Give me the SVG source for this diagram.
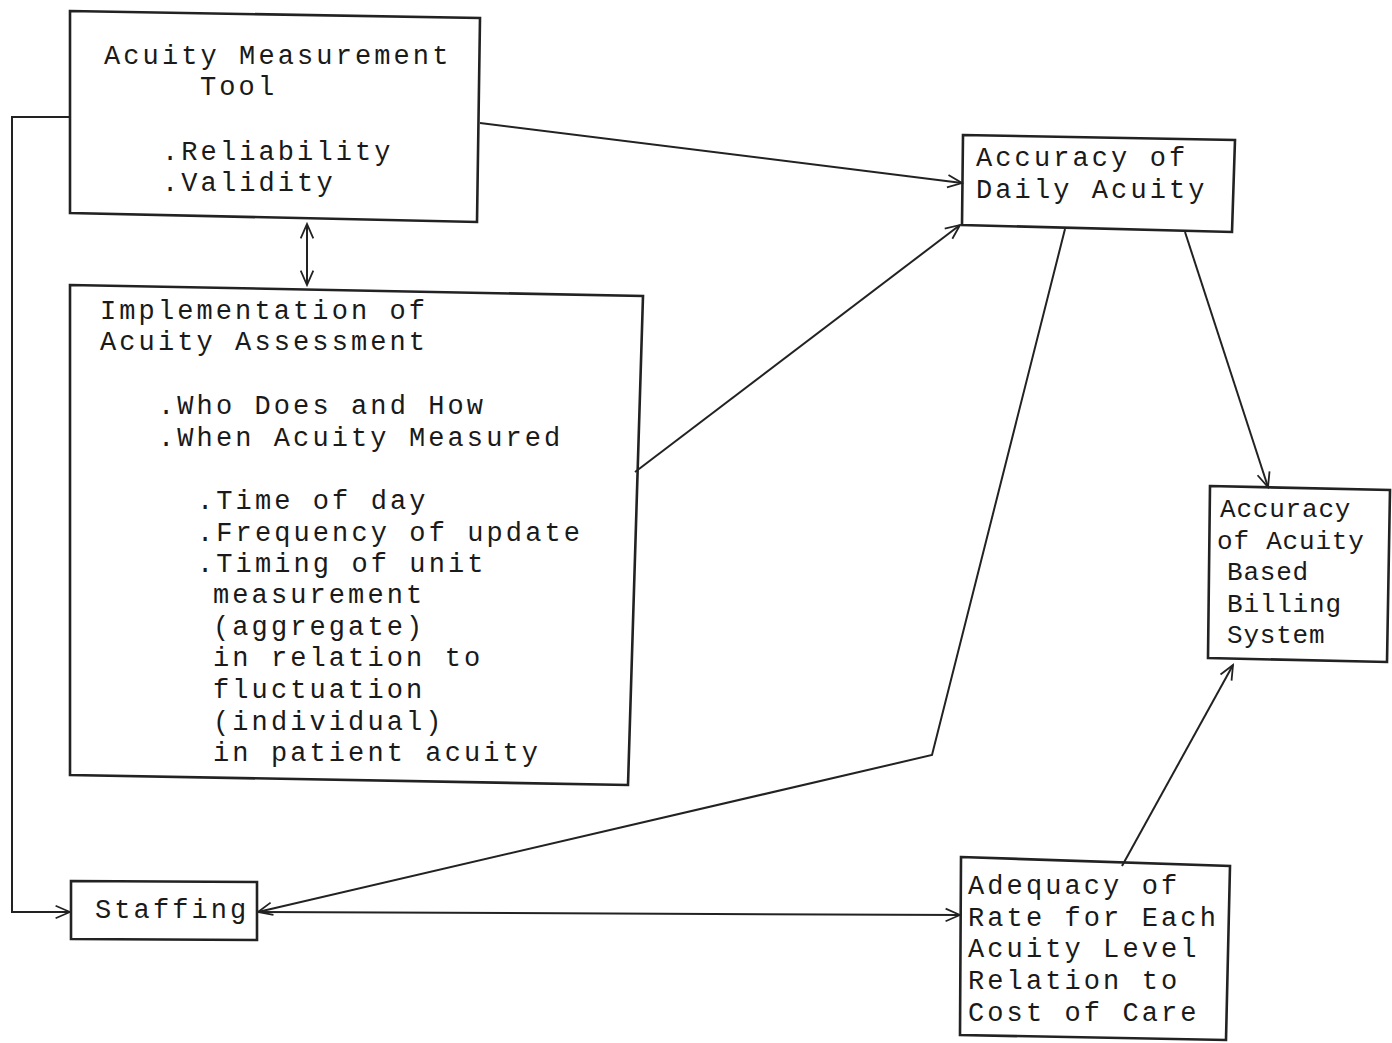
<svg xmlns="http://www.w3.org/2000/svg" width="1392" height="1043" viewBox="0 0 1392 1043">
<style>
.box{fill:none;stroke:#222;stroke-width:2.6}
.ln{fill:none;stroke:#222;stroke-width:2}
.t{font-family:"Liberation Mono","Courier New",monospace;font-size:27px;letter-spacing:3.1px;fill:#1a1a1a}
.s{font-size:26px;letter-spacing:0.8px}
</style>
<defs>
<marker id="ah" viewBox="0 0 20 20" refX="18" refY="10" markerWidth="18" markerHeight="18" markerUnits="userSpaceOnUse" orient="auto-start-reverse">
<path d="M2,3 L18,10 L2,17" fill="none" stroke="#222" stroke-width="2"/>
</marker>
</defs>
<rect width="1392" height="1043" fill="#fff"/>
<g id="connectors">
<path class="ln" d="M70,117 L12,117 L12,912 L70,912" marker-end="url(#ah)"/>
<path class="ln" d="M480,123 L962,183" marker-end="url(#ah)"/>
<path class="ln" d="M307,224 L307,285" marker-start="url(#ah)" marker-end="url(#ah)"/>
<path class="ln" d="M635,472 L960,225" marker-end="url(#ah)"/>
<path class="ln" d="M1065,229 L932,755 L258,912" marker-end="url(#ah)"/>
<path class="ln" d="M1185,232 L1268,487" marker-end="url(#ah)"/>
<path class="ln" d="M258,912 L960,915" marker-end="url(#ah)"/>
<path class="ln" d="M1122,866 L1233,665" marker-end="url(#ah)"/>
</g>
<g id="n1">
<path class="box" d="M70,11 L480,18 L477,222 L70,213 Z"/>
<text class="t" x="104" y="64">Acuity Measurement</text>
<text class="t" x="200" y="95">Tool</text>
<text class="t" x="162" y="160">.Reliability</text>
<text class="t" x="162" y="191">.Validity</text>
</g>
<g id="n2">
<path class="box" d="M70,285 L643,296 L628,785 L70,775 Z"/>
<text class="t" x="100" y="319">Implementation of</text>
<text class="t" x="100" y="350">Acuity Assessment</text>
<text class="t" x="158" y="414">.Who Does and How</text>
<text class="t" x="158" y="446">.When Acuity Measured</text>
<text class="t" x="197" y="509">.Time of day</text>
<text class="t" x="197" y="541">.Frequency of update</text>
<text class="t" x="197" y="572">.Timing of unit</text>
<text class="t" x="213" y="603">measurement</text>
<text class="t" x="213" y="635">(aggregate)</text>
<text class="t" x="213" y="666">in relation to</text>
<text class="t" x="213" y="698">fluctuation</text>
<text class="t" x="213" y="730">(individual)</text>
<text class="t" x="213" y="761">in patient acuity</text>
</g>
<g id="n3">
<path class="box" d="M963,135 L1235,140 L1232,232 L962,225 Z"/>
<text class="t" x="976" y="166">Accuracy of</text>
<text class="t" x="976" y="198">Daily Acuity</text>
</g>
<g id="n4">
<path class="box" d="M1210,486 L1390,490 L1387,662 L1208,658 Z"/>
<text class="t s" x="1220" y="517">Accuracy</text>
<text class="t s" x="1217" y="549">of Acuity</text>
<text class="t s" x="1227" y="580">Based</text>
<text class="t s" x="1227" y="612">Billing</text>
<text class="t s" x="1227" y="643">System</text>
</g>
<g id="n5">
<path class="box" d="M71,881 L257,882 L257,940 L71,939 Z"/>
<text class="t" x="95" y="918">Staffing</text>
</g>
<g id="n6">
<path class="box" d="M961,857 L1230,866 L1226,1040 L960,1035 Z"/>
<text class="t" x="968" y="894">Adequacy of</text>
<text class="t" x="968" y="926">Rate for Each</text>
<text class="t" x="968" y="957">Acuity Level</text>
<text class="t" x="968" y="989">Relation to</text>
<text class="t" x="968" y="1021">Cost of Care</text>
</g>
</svg>
